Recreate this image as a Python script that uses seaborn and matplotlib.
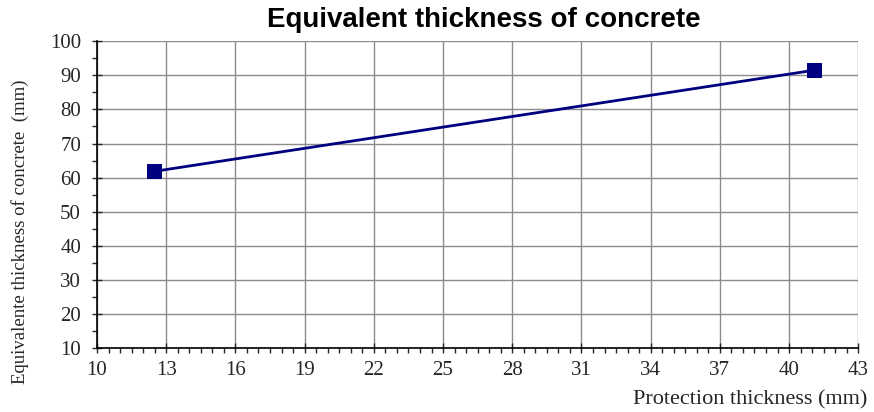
import matplotlib
matplotlib.use("Agg")
import matplotlib.pyplot as plt
import seaborn as sns
import pandas as pd
from matplotlib.ticker import MultipleLocator

# data
protection = [12.45, 41.1]
equivalent = [61.8, 91.5]
x_ticks = list(range(10, 44, 3))
y_ticks = list(range(10, 101, 10))

df = pd.DataFrame({"protection": protection, "equivalent": equivalent})

sns.set_style("white")
plt.rcParams["font.family"] = ["Liberation Serif", "DejaVu Serif"]

fig = plt.figure(figsize=(8.74, 4.12), dpi=100)
ax = fig.add_axes([0.111, 0.155, 0.871, 0.745])

sns.lineplot(data=df, x="protection", y="equivalent", ax=ax, color="#000080",
             linewidth=2, marker="s", markersize=10, markeredgecolor="#000080")

ax.set_xlim(10, 43)
ax.set_ylim(10, 100)
ax.set_xticks(x_ticks)
ax.set_yticks(y_ticks)
ax.xaxis.set_minor_locator(MultipleLocator(0.5))
ax.yaxis.set_minor_locator(MultipleLocator(5))
ax.grid(True, which="major", color="#8c8c8c", linewidth=1)
ax.set_axisbelow(True)

for s in ["top", "right"]:
    ax.spines[s].set_visible(False)
for s in ["left", "bottom"]:
    ax.spines[s].set_color("black")
    ax.spines[s].set_linewidth(1.2)

ax.tick_params(axis="x", which="major", direction="inout", length=7, width=1, labelsize=15, pad=6)
ax.tick_params(axis="x", which="minor", direction="out", length=3.5, width=1)
ax.tick_params(axis="y", which="major", direction="inout", length=7, width=1, labelsize=15, pad=8)
ax.tick_params(axis="y", which="minor", direction="out", length=3.5, width=1)
ax.xaxis.set_tick_params(bottom=True, which="both")
ax.yaxis.set_tick_params(left=True, which="both")

ax.set_xlabel("")
ax.set_ylabel("")
fig.text(0.023, 1 - 232 / 412, "Equivalente thickness of concrete  (mm)", rotation=90,
         ha="center", va="center", fontsize=13.5)
fig.text(0.992, 1 - 400 / 412, "Protection thickness (mm)", ha="right", va="center", fontsize=16)

fig.text(484 / 874, 1 - 20 / 412, "Equivalent thickness of concrete",
         family=["Liberation Sans", "DejaVu Sans"], fontweight="bold", fontsize=20,
         ha="center", va="center", color="black")

fig.savefig("out.png", dpi=100)
